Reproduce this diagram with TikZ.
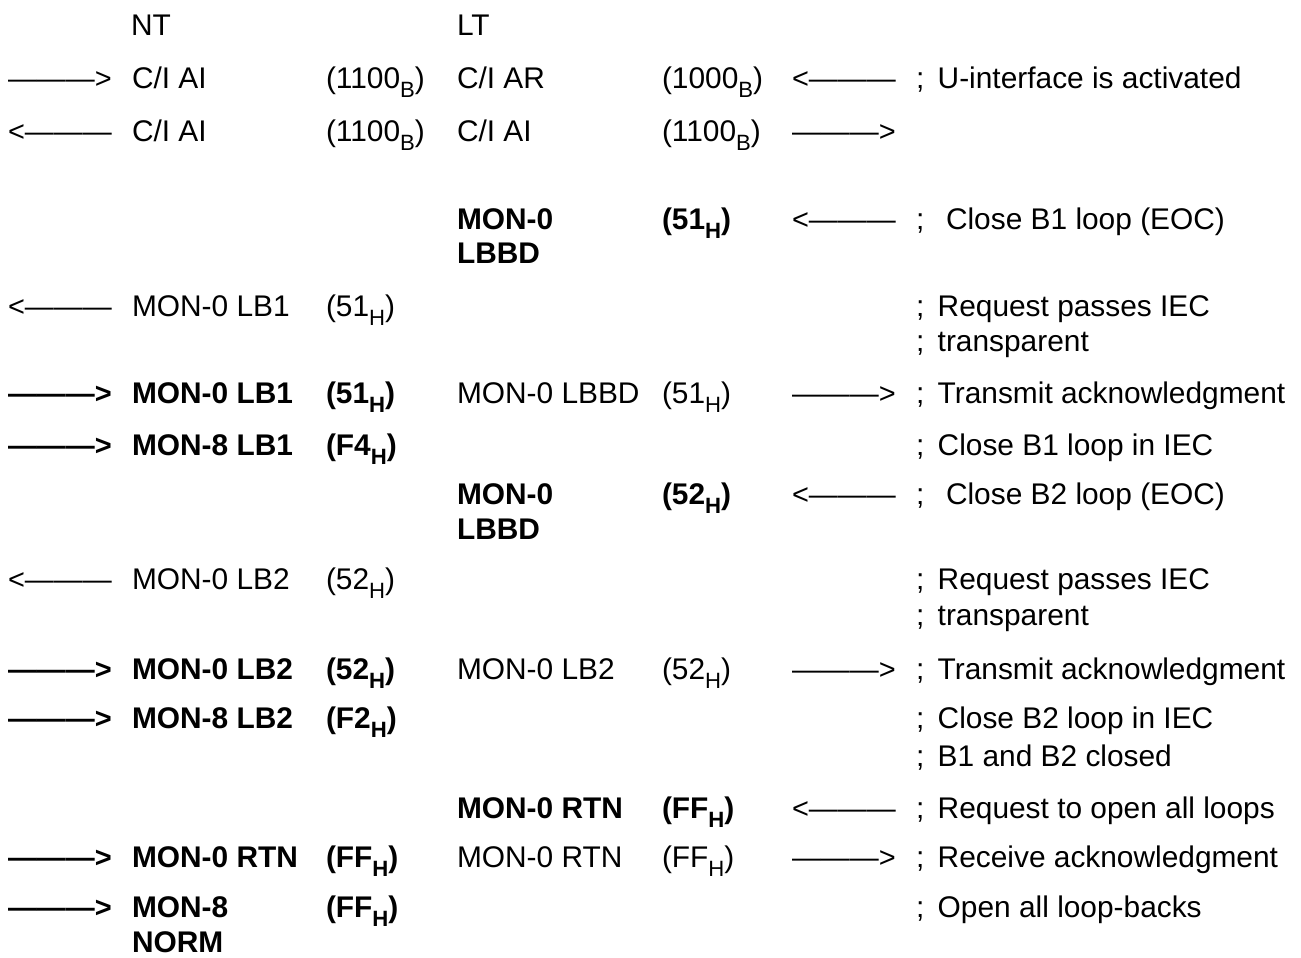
\documentclass[tikz,border=0pt]{standalone}
\usepackage{fontspec}
\setmainfont{Liberation Sans}
\usepackage{tikz}
\usetikzlibrary{positioning}
\newcommand{\sbx}[1]{\raisebox{-0.33em}{\fontsize{16.6}{17}\selectfont #1}}
\newcommand{\rarr}{{\fontsize{21.7}{26}\selectfont ———>}}
\newcommand{\larr}{{\fontsize{21.7}{26}\selectfont <———}}
\newcommand{\semi}{;\hspace{0.45em}}

\begin{document}
\begin{tikzpicture}[
  x=0.75pt, y=-0.75pt,
  txt/.style={anchor=base west, inner sep=0pt, outer sep=0pt, font=\fontsize{22.4}{26}\selectfont},
  btxt/.style={txt, font=\fontsize{22.4}{26}\selectfont\bfseries}
]
\useasboundingbox (0,0) rectangle (1301,957);

% header
\node[txt] (nt) at (131,35) {NT};
\node[txt] (lt) at (457,35) {LT};

% C/I activation
\node[txt] (a1) at (8,88) {\rarr};
\node[txt] (b1) at (132,88) {C/I AI};
\node[txt] (c1) at (326,88) {(1100\sbx{B})};
\node[txt] (d1) at (457,88) {C/I AR};
\node[txt] (e1) at (662,88) {(1000\sbx{B})};
\node[txt] (f1) at (792,88) {\larr};
\node[txt] (g1) at (916,88) {\semi U-interface is activated};

\node[txt] (a2) at (8,141) {\larr};
\node[txt] (b2) at (132,141) {C/I AI};
\node[txt] (c2) at (326,141) {(1100\sbx{B})};
\node[txt] (d2) at (457,141) {C/I AI};
\node[txt] (e2) at (662,141) {(1100\sbx{B})};
\node[txt] (f2) at (792,141) {\rarr};

% B1 loop
\node[btxt] (d3) at (457,229) {MON-0};
\node[btxt] (d3b) at (457,263) {LBBD};
\node[btxt] (e3) at (662,229) {(51\sbx{H})};
\node[txt] (f3) at (792,229) {\larr};
\node[txt] (g3) at (916,229) {\semi\ Close B1 loop (EOC)};

\node[txt] (a4) at (8,316) {\larr};
\node[txt] (b4) at (132,316) {MON-0 LB1};
\node[txt] (c4) at (326,316) {(51\sbx{H})};
\node[txt] (g4) at (916,316) {\semi Request passes IEC};
\node[txt] (g4b) at (916,351) {\semi transparent};

\node[btxt] (a5) at (8,403) {\rarr};
\node[btxt] (b5) at (132,403) {MON-0 LB1};
\node[btxt] (c5) at (326,403) {(51\sbx{H})};
\node[txt] (d5) at (457,403) {MON-0 LBBD};
\node[txt] (e5) at (662,403) {(51\sbx{H})};
\node[txt] (f5) at (792,403) {\rarr};
\node[txt] (g5) at (916,403) {\semi Transmit acknowledgment};

\node[btxt] (a6) at (8,455) {\rarr};
\node[btxt] (b6) at (132,455) {MON-8 LB1};
\node[btxt] (c6) at (326,455) {(F4\sbx{H})};
\node[txt] (g6) at (916,455) {\semi Close B1 loop in IEC};

% B2 loop
\node[btxt] (d7) at (457,504) {MON-0};
\node[btxt] (d7b) at (457,539) {LBBD};
\node[btxt] (e7) at (662,504) {(52\sbx{H})};
\node[txt] (f7) at (792,504) {\larr};
\node[txt] (g7) at (916,504) {\semi\ Close B2 loop (EOC)};

\node[txt] (a8) at (8,589) {\larr};
\node[txt] (b8) at (132,589) {MON-0 LB2};
\node[txt] (c8) at (326,589) {(52\sbx{H})};
\node[txt] (g8) at (916,589) {\semi Request passes IEC};
\node[txt] (g8b) at (916,625) {\semi transparent};

\node[btxt] (a9) at (8,679) {\rarr};
\node[btxt] (b9) at (132,679) {MON-0 LB2};
\node[btxt] (c9) at (326,679) {(52\sbx{H})};
\node[txt] (d9) at (457,679) {MON-0 LB2};
\node[txt] (e9) at (662,679) {(52\sbx{H})};
\node[txt] (f9) at (792,679) {\rarr};
\node[txt] (g9) at (916,679) {\semi Transmit acknowledgment};

\node[btxt] (a10) at (8,728) {\rarr};
\node[btxt] (b10) at (132,728) {MON-8 LB2};
\node[btxt] (c10) at (326,728) {(F2\sbx{H})};
\node[txt] (g10) at (916,728) {\semi Close B2 loop in IEC};
\node[txt] (g10b) at (916,766) {\semi B1 and B2 closed};

% open loops
\node[btxt] (d11) at (457,818) {MON-0 RTN};
\node[btxt] (e11) at (662,818) {(FF\sbx{H})};
\node[txt] (f11) at (792,818) {\larr};
\node[txt] (g11) at (916,818) {\semi Request to open all loops};

\node[btxt] (a12) at (8,867) {\rarr};
\node[btxt] (b12) at (132,867) {MON-0 RTN};
\node[btxt] (c12) at (326,867) {(FF\sbx{H})};
\node[txt] (d12) at (457,867) {MON-0 RTN};
\node[txt] (e12) at (662,867) {(FF\sbx{H})};
\node[txt] (f12) at (792,867) {\rarr};
\node[txt] (g12) at (916,867) {\semi Receive acknowledgment};

\node[btxt] (a13) at (8,917) {\rarr};
\node[btxt] (b13) at (132,917) {MON-8};
\node[btxt] (b13b) at (132,952) {NORM};
\node[btxt] (c13) at (326,917) {(FF\sbx{H})};
\node[txt] (g13) at (916,917) {\semi Open all loop-backs};
\end{tikzpicture}
\end{document}
